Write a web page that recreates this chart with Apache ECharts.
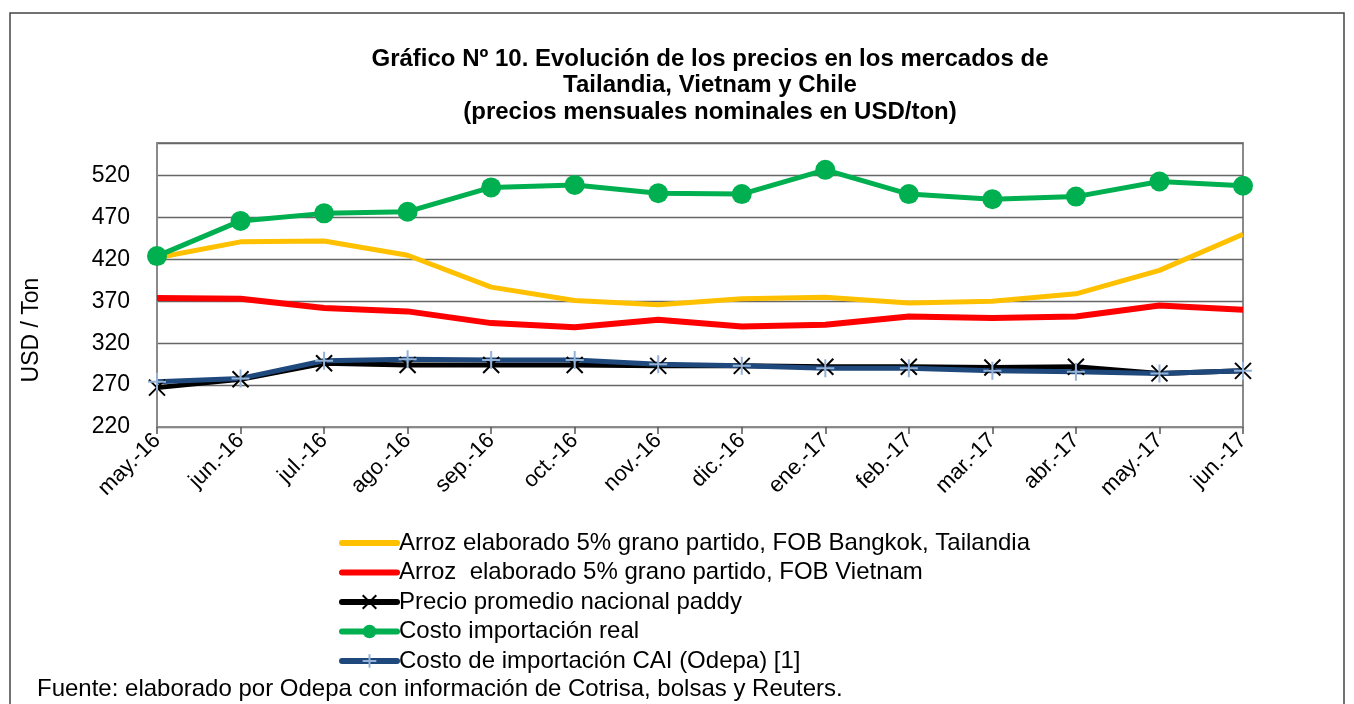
<!DOCTYPE html>
<html><head><meta charset="utf-8">
<script src="https://cdn.jsdelivr.net/npm/echarts@6/dist/echarts.min.js"></script>
<style>html,body{margin:0;padding:0;background:#fff}#c{width:1354px;height:704px}</style>
</head><body><div id="c"></div>
<script>
const categories = ['may.-16','jun.-16','jul.-16','ago.-16','sep.-16','oct.-16','nov.-16','dic.-16','ene.-17','feb.-17','mar.-17','abr.-17','may.-17','jun.-17'];
const tailandia = [422, 441, 442, 425, 387, 371, 366, 373, 375, 368, 370, 379, 407, 450];
const vietnam = [374, 373, 362, 358, 344, 339, 348, 340, 342, 352, 350, 352, 365, 360];
const paddy = [267, 277, 296, 294, 294, 294, 293, 293, 292, 292, 291, 292, 284, 287];
const costoReal = [424, 466, 475, 477, 506, 509, 499, 498, 527, 498, 492, 495, 513, 508];
const costoCAI = [274, 278, 299, 301, 300, 300, 295, 293, 290, 290, 287, 286, 284, 287];
const seriesNames = [
  'Arroz elaborado 5% grano partido, FOB Bangkok, Tailandia',
  'Arroz  elaborado 5% grano partido, FOB Vietnam',
  'Precio promedio nacional paddy',
  'Costo importación real',
  'Costo de importación CAI (Odepa) [1]'
];
const yTicks = {min: 220, max: 559, interval: 50};

const font = '"Liberation Sans", Arial, sans-serif';
const chart = echarts.init(document.getElementById('c'), null, {renderer: 'canvas'});
const X_PATH = 'path://M0,0L10,10M10,0L0,10';
const PLUS_PATH = 'path://M5,0L5,10M0,5L10,5';
const legendData = seriesNames.map((n, i) => i < 2 ? {name: n, itemStyle: {opacity: 0}} : {name: n});
chart.setOption({
  animation: false,
  backgroundColor: '#fff',
  title: {
    text: 'Gráfico Nº 10. Evolución de los precios en los mercados de\nTailandia, Vietnam y Chile\n(precios mensuales nominales en USD/ton)',
    left: 705, top: 41, textAlign: 'center',
    textStyle: {fontFamily: font, fontSize: 24, fontWeight: 'bold', color: '#000', lineHeight: 26.5}
  },
  graphic: [
    {type: 'rect', shape: {x: 10, y: 13, width: 1334, height: 700}, style: {fill: 'none', stroke: '#444', lineWidth: 1.5}, silent: true},
    {type: 'text', left: 37, top: 677, style: {text: 'Fuente: elaborado por Odepa con información de Cotrisa, bolsas y Reuters.', font: '24px ' + font, fill: '#000'}},
    {type: 'text', x: 32, y: 330, rotation: Math.PI / 2, style: {text: 'USD / Ton', font: '23px ' + font, fill: '#000', align: 'center', verticalAlign: 'middle'}}
  ],
  legend: {
    orient: 'vertical', left: 334, top: 526,
    itemWidth: 55, itemHeight: 17, itemGap: 5.5,
    lineStyle: {width: 6, cap: 'round'},
    textStyle: {fontFamily: font, fontSize: 24, color: '#000', lineHeight: 24, padding: [0,0,0,-3]},
    data: legendData
  },
  grid: {left: 157, right: 111, top: 143, bottom: 277, show: true, borderColor: '#8a8a8a', borderWidth: 2},
  xAxis: {
    type: 'category', data: categories, boundaryGap: false,
    axisLine: {lineStyle: {color: '#8a8a8a', width: 2}},
    axisTick: {show: true, length: 7, lineStyle: {color: '#555', width: 1.5}, alignWithLabel: true},
    axisLabel: {rotate: 45, fontFamily: font, fontSize: 22, color: '#000', margin: 10, interval: 0},
    splitLine: {show: false}
  },
  yAxis: {
    type: 'value', min: yTicks.min, max: yTicks.max, interval: yTicks.interval,
    axisLine: {show: true, lineStyle: {color: '#8a8a8a', width: 2}},
    axisTick: {show: false},
    axisLabel: {fontFamily: font, fontSize: 23, color: '#000', margin: 27, showMaxLabel: false},
    splitLine: {show: true, lineStyle: {color: '#666', width: 1.3}}
  },
  series: [
    {name: seriesNames[0], type: 'line', data: tailandia, symbol: 'circle', showSymbol: false,
      lineStyle: {color: '#FFC000', width: 5, join: 'round'}, itemStyle: {color: '#FFC000'}},
    {name: seriesNames[1], type: 'line', data: vietnam, symbol: 'circle', showSymbol: false,
      lineStyle: {color: '#FF0000', width: 6, join: 'round'}, itemStyle: {color: '#FF0000'}},
    {name: seriesNames[2], type: 'line', data: paddy, symbol: X_PATH, symbolSize: 16, showAllSymbol: true,
      lineStyle: {color: '#000', width: 5, join: 'round'}, itemStyle: {color: 'rgba(0,0,0,0)', borderColor: '#000', borderWidth: 2}},
    {name: seriesNames[3], type: 'line', data: costoReal, symbol: 'circle', symbolSize: 20, showAllSymbol: true,
      lineStyle: {color: '#00B050', width: 5, join: 'round'}, itemStyle: {color: '#00B050'}},
    {name: seriesNames[4], type: 'line', data: costoCAI, symbol: PLUS_PATH, symbolSize: 18, showAllSymbol: true,
      lineStyle: {color: '#1F497D', width: 5, join: 'round'}, itemStyle: {color: 'rgba(0,0,0,0)', borderColor: '#95B3D7', borderWidth: 2}}
  ]
});
</script></body></html>
